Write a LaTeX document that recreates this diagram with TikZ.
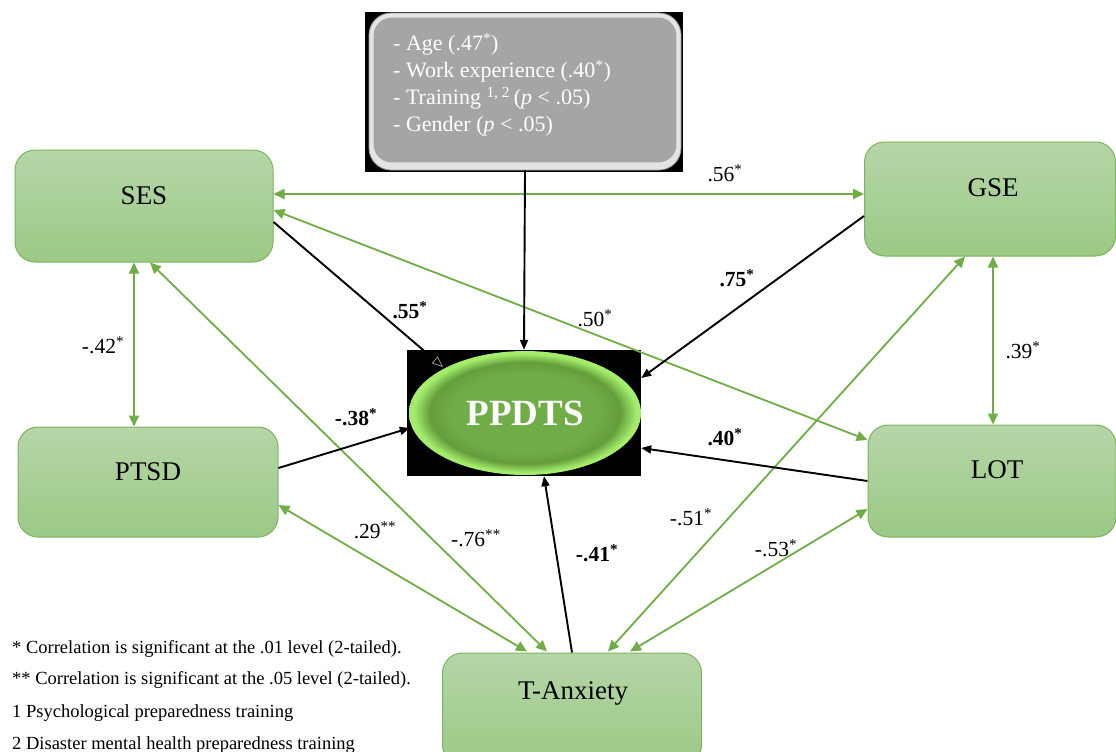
\documentclass[tikz,border=0pt]{standalone}
\usepackage{fontspec}
\setmainfont{Liberation Serif}
\usetikzlibrary{arrows.meta,calc,shapes.geometric}
\definecolor{boxtop}{HTML}{B5D6A7}
\definecolor{boxbot}{HTML}{9CC986}
\definecolor{boxedge}{HTML}{7DB35E}
\definecolor{arrgreen}{HTML}{70AD47}
\definecolor{greyfill}{HTML}{A5A5A5}
\definecolor{greyrim}{HTML}{E4E4E4}
\definecolor{greyedge}{HTML}{9A9A9A}
\definecolor{pgmid}{HTML}{70AC47}
\definecolor{pgdark}{HTML}{649E3C}
\definecolor{pglight}{HTML}{A4EC6C}
\pgfdeclareradialshading{ppdshade}{\pgfpoint{0bp}{0bp}}{color(0bp)=(pgmid); color(16bp)=(pgmid); color(20.5bp)=(pgdark); color(24bp)=(pglight); color(25bp)=(pglight); color(50bp)=(pglight)}
\tikzset{
  box/.style={draw=boxedge, line width=1pt, rounded corners=20pt, top color=boxtop, bottom color=boxbot, inner sep=0pt},
  boxtext/.style={font=\fontsize{27}{30}\selectfont, inner sep=0pt, text=black},
  garr/.style={draw=arrgreen, line width=1.8pt, {Triangle[length=11pt,width=10pt]}-{Triangle[length=11pt,width=10pt]}},
  barr/.style={draw=black, line width=1.9pt, -{Triangle[length=10pt,width=8pt]}},
  lab/.style={font=\fontsize{21.5}{24}\selectfont, inner sep=0pt},
  blab/.style={font=\fontsize{21.5}{24}\selectfont\bfseries, inner sep=0pt},
  foot/.style={font=\fontsize{18.5}{22}\selectfont, inner sep=0pt, anchor=west}
}
\begin{document}
\begin{tikzpicture}[x=1pt,y=-1pt]
\useasboundingbox (0,0) rectangle (1116,752);
% boxes
\node[box, minimum width=258pt, minimum height=112pt] (ses) at (144,206) {};
\node[boxtext] (sest) at (144,196) {SES};
\node[box, minimum width=251pt, minimum height=114pt] (gse) at (990,199) {};
\node[boxtext] (gset) at (993,188) {GSE};
\node[box, minimum width=260pt, minimum height=110pt] (ptsd) at (148,482) {};
\node[boxtext] (ptsdt) at (148,472) {PTSD};
\node[box, minimum width=248pt, minimum height=112pt] (lot) at (992,481) {};
\node[boxtext] (lott) at (997,470) {LOT};
\node[box, minimum width=259pt, minimum height=112pt] (tanx) at (572,709) {};
\node[boxtext] (tanxt) at (573,693) {T-Anxiety};
% grey box
\node[fill=black, minimum width=318pt, minimum height=160pt, inner sep=0pt] (greybg) at (524,92) {};
\node[fill=greyrim, draw=greyedge, line width=0.8pt, rounded corners=22pt, minimum width=312pt, minimum height=157pt, inner sep=0pt] (grey) at (525,91.5) {};
\fill[greyfill, rounded corners=18pt] ($(grey.north west)+(5,5)$) rectangle ($(grey.south east)+(-5,-8)$);
\node[anchor=west, align=left, text=white, font=\fontsize{22}{27}\selectfont, inner sep=0pt] (greyt) at (393,85)
  {- Age (.47\textsuperscript{*})\\
   - Work experience (.40\textsuperscript{*})\\
   - Training \textsuperscript{1, 2}\,(\textit{p} < .05)\\
   - Gender (\textit{p} < .05)};
% PPDTS
\node[fill=black, minimum width=234pt, minimum height=126pt, inner sep=0pt] (ppdtsbox) at (524,413) {};
\node[ellipse, shading=ppdshade, minimum width=232pt, minimum height=124pt, inner sep=0pt, text=white, font=\fontsize{37}{40}\selectfont\bfseries] (ppdts) at (525,413) {PPDTS};
% correlations (green)
\draw[garr] ($(ses.east)+(0,-12)$) -- ($(gse.west)+(0,-5)$);
\draw[garr] ($(ses.east)+(0,4)$) -- ($(lot.west)+(0,-41)$);
\draw[garr] ($(ses.south)+(-10,0)$) -- ($(ptsd.north)+(-14,0)$);
\draw[garr] ($(gse.south)+(3,0)$) -- ($(lot.north)+(1,0)$);
\draw[garr] ($(ptsd.east)+(0,23)$) -- ($(tanx.north)+(-45,-1)$);
\draw[garr] ($(ses.south)+(6,0)$) -- ($(tanx.north)+(-25,-1)$);
\draw[garr] ($(gse.south)+(-25,0)$) -- ($(tanx.north)+(36,-1)$);
\draw[garr] ($(lot.west)+(0,28)$) -- ($(tanx.north)+(58,-1)$);
% predictors (black)
\draw[barr, -{Triangle[length=11pt,width=9pt,color=gray!70,fill=black,line width=0.7pt]}] ($(ses.east)+(0,16)$) -- ($(ppdts.center)+(-82,-46)$);
\draw[barr] ($(gse.west)+(0,17)$) -- ($(ppdtsbox.east)+(0,-35)$);
\draw[barr] (grey.south) -- (ppdtsbox.north);
\draw[barr] ($(ptsd.east)+(0,-14)$) -- ($(ppdtsbox.west)+(3,15)$);
\draw[barr] (lot.west) -- ($(ppdtsbox.east)+(0,35)$);
\draw[barr] (tanx.north) -- ($(ppdtsbox.south)+(20,0)$);
% labels
\node[lab] (l56) at (725,173) {.56\textsuperscript{*}};
\node[lab] (l50) at (595,318) {.50\textsuperscript{*}};
\node[blab] (l55) at (410,310) {.55\textsuperscript{*}};
\node[blab] (l75) at (737,278) {.75\textsuperscript{*}};
\node[lab] (l42) at (103,345) {-.42\textsuperscript{*}};
\node[lab] (l39) at (1023,350) {.39\textsuperscript{*}};
\node[blab] (l38) at (356,417) {-.38\textsuperscript{*}};
\node[blab] (l40) at (725,437) {.40\textsuperscript{*}};
\node[blab] (l41) at (597,553) {-.41\textsuperscript{*}};
\node[lab] (l29) at (375,530) {.29\textsuperscript{**}};
\node[lab] (l76) at (476,538) {-.76\textsuperscript{**}};
\node[lab] (l51) at (691,517) {-.51\textsuperscript{*}};
\node[lab] (l53) at (776,548) {-.53\textsuperscript{*}};
% footnotes
\node[foot] (f1) at (12,649) {* Correlation is significant at the .01 level (2-tailed).};
\node[foot] (f2) at (12,680) {** Correlation is significant at the .05 level (2-tailed).};
\node[foot] (f3) at (12,713) {1 Psychological preparedness training};
\node[foot] (f4) at (12,745) {2 Disaster mental health preparedness training};
\end{tikzpicture}
\end{document}
